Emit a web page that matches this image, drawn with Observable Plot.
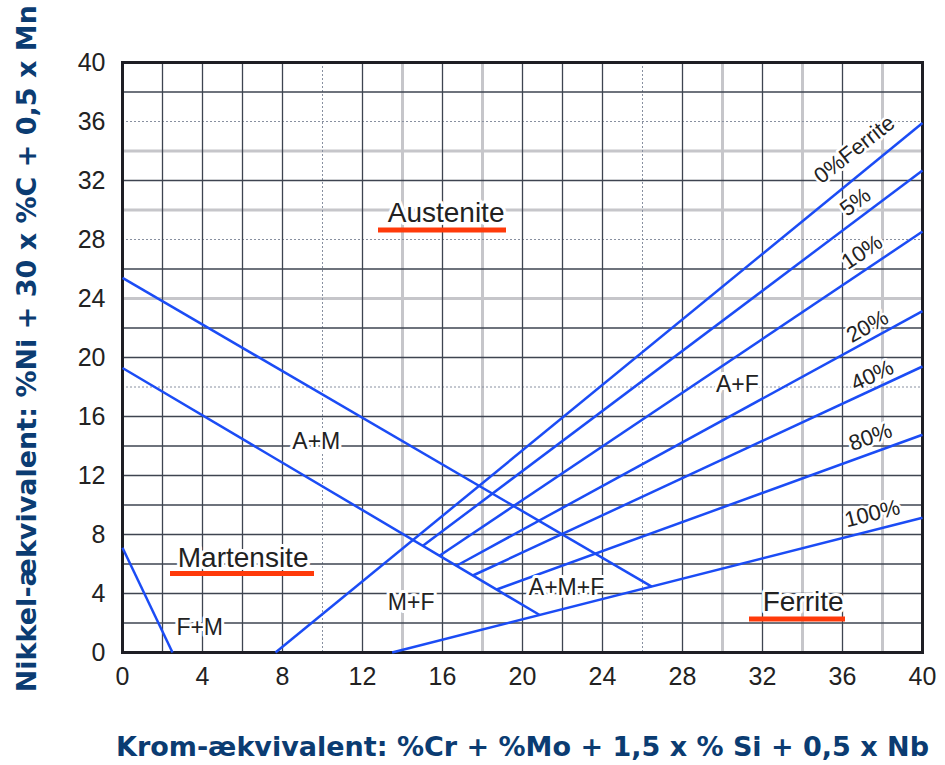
<!DOCTYPE html>
<html><head><meta charset="utf-8">
<script src="https://cdn.jsdelivr.net/npm/d3@7"></script>
<script src="https://cdn.jsdelivr.net/npm/@observablehq/plot@0.6"></script>
<style>body{margin:0;background:#fff}</style>
</head><body><div id="chart"></div>
<script>
// Axis ticks
const tickValues = [0, 4, 8, 12, 16, 20, 24, 28, 32, 36, 40];
// Grid lines (every 2 units) – grouped by appearance
const gridXDark = [2, 4, 6, 8, 12, 16, 20, 22, 24, 28, 32, 36];
const gridXLight = [14, 18, 30, 34, 38];
const gridXDotted = [10, 26];
const gridYDark = [2, 4, 6, 8, 10, 12, 14, 16, 20, 22, 26, 32, 38];
const gridYLight = [24, 30, 34];
const gridYDotted = [18, 28, 36];

// Phase boundary lines (Cr-equivalent x, Ni-equivalent y)
const lineNames = ["A+M upper", "A+M lower", "F+M", "0%", "5%", "10%", "20%", "40%", "80%", "100%"];
const lineX1 = [0, 0, 0, 7.65, 15.02, 15.85, 16.70, 17.52, 18.71, 13.48];
const lineY1 = [25.4, 19.29, 7.1, 0, 7.23, 6.56, 5.88, 5.22, 4.27, 0];
const lineX2 = [26.46, 20.86, 2.5, 40, 40, 40, 40, 40, 40, 40];
const lineY2 = [4.47, 2.54, 0, 35.9, 32.68, 28.54, 23.14, 19.39, 14.76, 9.13];

// Ferrite percentage labels
const pctText = ["0%Ferrite", "5%", "10%", "20%", "40%", "80%", "100%"];
const pctX = [36.6, 36.65, 36.98, 37.25, 37.49, 37.4, 37.49];
const pctY = [34.1, 30.53, 27.14, 22.1, 18.78, 14.6, 9.4];
const pctAngle = [-38, -37, -34, -29, -25, -20, -14];

// Small region labels
const regionText = ["A+M", "M+F", "F+M", "A+M+F", "A+F"];
const regionX = [9.69, 14.43, 3.86, 22.2, 30.74];
const regionY = [14.32, 3.36, 1.7, 4.37, 18.17];

// Main phase labels (underlined)
const phaseText = ["Austenite", "Martensite", "Ferrite"];
const phaseX = [16.18, 6.03, 34.03];
const phaseY = [29.8, 6.41, 3.42];
const underlineX1 = [12.8, 2.4, 31.35];
const underlineX2 = [19.2, 9.6, 36.15];
const underlineY = [28.64, 5.36, 2.27];

const xTitle = "Krom-ækvivalent: %Cr + %Mo + 1,5 x % Si + 0,5 x Nb";
const yTitle = "Nikkel-ækvivalent: %Ni + 30 x %C + 0,5 x Mn";

const lines = lineNames.map((n, i) => ({n, x1: lineX1[i], y1: lineY1[i], x2: lineX2[i], y2: lineY2[i]}));
const pct = pctText.map((t, i) => ({t, x: pctX[i], y: pctY[i], r: pctAngle[i]}));
const regions = regionText.map((t, i) => ({t, x: regionX[i], y: regionY[i]}));
const phases = phaseText.map((t, i) => ({t, x: phaseX[i], y: phaseY[i]}));
const underlines = phaseText.map((t, i) => ({x1: underlineX1[i], x2: underlineX2[i], y: underlineY[i]}));

const font = "Liberation Sans, Arial, sans-serif";
const titleFont = "DejaVu Sans, Verdana, sans-serif";
const blue = "#1b4cf5";
const navy = "#0b3c72";

const pctMarks = pct.map(d => Plot.text([d], {x: "x", y: "y", text: "t", rotate: d.r, fontSize: 22, fill: "#222", stroke: "white", strokeWidth: 5}));

const chart = Plot.plot({
  width: 945,
  height: 765,
  marginLeft: 122,
  marginRight: 23,
  marginTop: 62,
  marginBottom: 113,
  style: {fontFamily: font, fontSize: "25px", color: "#222", background: "#fff"},
  x: {domain: [0, 40], axis: null},
  y: {domain: [0, 40], axis: null},
  marks: [
    Plot.ruleX(gridXLight, {stroke: "#c6c6ca", strokeWidth: 3}),
    Plot.ruleY(gridYLight, {stroke: "#c6c6ca", strokeWidth: 3}),
    Plot.ruleX(gridXDotted, {stroke: "#8890a0", strokeWidth: 1, strokeDasharray: "2,2"}),
    Plot.ruleY(gridYDotted, {stroke: "#8890a0", strokeWidth: 1, strokeDasharray: "2,2"}),
    Plot.ruleX(gridXDark, {stroke: "#3e4450", strokeWidth: 1.3}),
    Plot.ruleY(gridYDark, {stroke: "#3e4450", strokeWidth: 1.3}),
    Plot.frame({stroke: "#1e1e24", strokeWidth: 3}),
    Plot.axisX(tickValues, {tickSize: 0, tickPadding: 15, label: null, fontSize: 25, fill: "#222"}),
    Plot.axisY(tickValues, {tickSize: 0, tickPadding: 17, label: null, fontSize: 25, fill: "#222"}),
    Plot.link(lines, {x1: "x1", y1: "y1", x2: "x2", y2: "y2", stroke: blue, strokeWidth: 2.5}),
    ...pctMarks,
    Plot.text(regions, {x: "x", y: "y", text: "t", fontSize: 23, fill: "#222", stroke: "white", strokeWidth: 6}),
    Plot.text(phases, {x: "x", y: "y", text: "t", fontSize: 28, fill: "#222", stroke: "white", strokeWidth: 6}),
    Plot.ruleY(underlines, {y: "y", x1: "x1", x2: "x2", stroke: "#ff3a0a", strokeWidth: 5}),
    Plot.text([xTitle], {x: 20, y: -6.4, text: d => d, fontSize: 27, fontWeight: "bold", fontFamily: titleFont, fill: navy}),
    Plot.text([yTitle], {x: -4.75, y: 20.6, text: d => d, rotate: -90, fontSize: 27, fontWeight: "bold", fontFamily: titleFont, fill: navy})
  ]
});
document.getElementById("chart").appendChild(chart);
</script>
</body></html>
